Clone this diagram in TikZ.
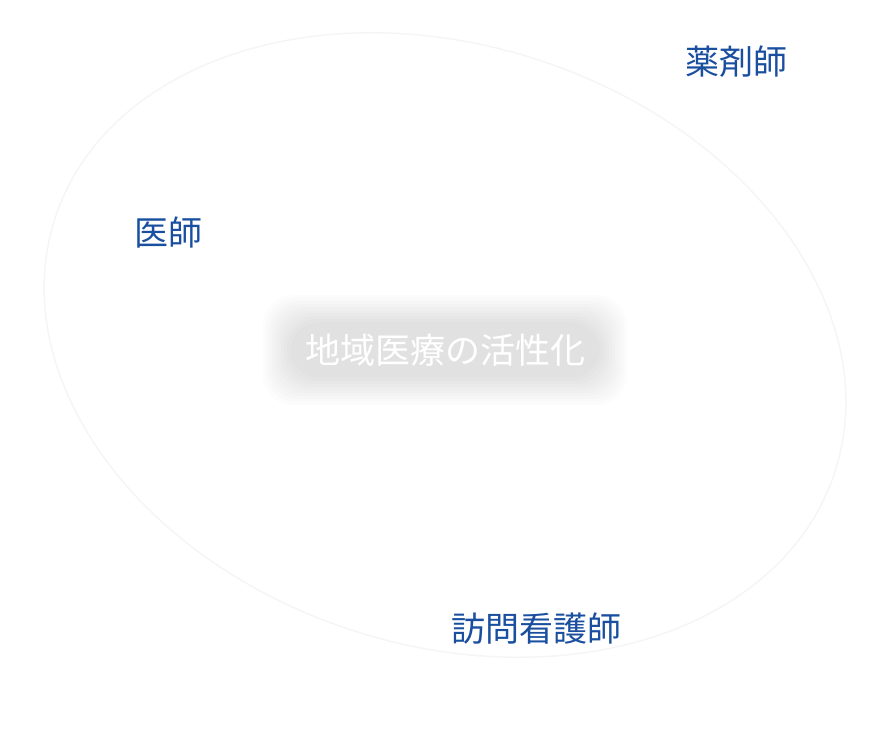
\documentclass[tikz,border=0pt]{standalone}
\usepackage{fontspec}
\setmainfont{Noto Sans CJK JP}
\definecolor{roleblue}{HTML}{1A4FA0}
\definecolor{ringgray}{HTML}{F4F5F7}
\tikzset{
  role/.style={text=roleblue, font=\fontsize{34}{38}\selectfont},
  glow/.style={fill=black, rounded corners=30pt, opacity=0.012}
}
\begin{document}
\begin{tikzpicture}[x=1pt, y=-1pt]
  \useasboundingbox (0, 0) rectangle (880, 748);

  \draw[ringgray, line width=1.5pt] (445, 345) ellipse [x radius=410, y radius=300, rotate=-18];

  \foreach \d in {0, 3, ..., 27}
    \fill[glow] (290-\d, 322-\d) rectangle (600+\d, 378+\d);

  \node[text=white, font=\fontsize{35}{38}\selectfont] (center) at (445, 350) {地域医療の活性化};

  \node[role] (pharm) at (736, 62) {薬剤師};
  \node[role] (doctor) at (168, 233) {医師};
  \node[role] (nurse) at (536, 629) {訪問看護師};
\end{tikzpicture}
\end{document}
